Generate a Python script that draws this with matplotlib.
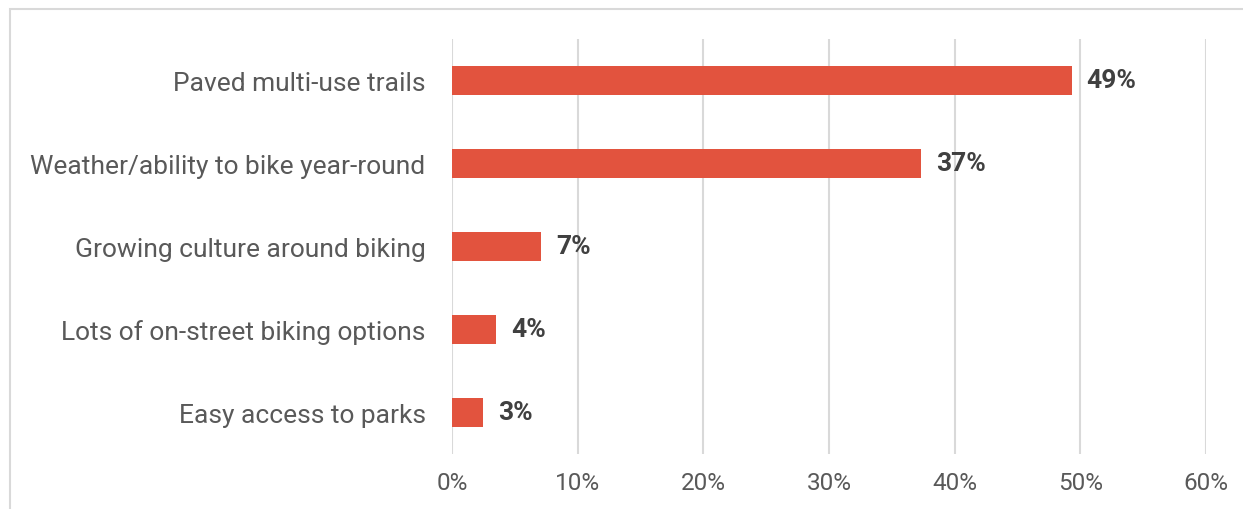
import matplotlib.pyplot as plt
from matplotlib.patches import Rectangle

categories = [
    "Paved multi-use trails",
    "Weather/ability to bike year-round",
    "Growing culture around biking",
    "Lots of on-street biking options",
    "Easy access to parks",
]
values = [49.3, 37.3, 7.1, 3.5, 2.5]
value_labels = ["49%", "37%", "7%", "4%", "3%"]
xticks = [0, 10, 20, 30, 40, 50, 60]

plt.rcParams['font.family'] = ['Roboto', 'DejaVu Sans']

fig = plt.figure(figsize=(12.43, 5.10), dpi=100)
ax = fig.add_axes([452 / 1243, 1 - 455 / 510, (1206 - 452) / 1243, (455 - 40) / 510])

ypos = list(range(len(categories)))
bars = ax.barh(ypos, values, height=0.35, color='#E2533E', zorder=3)

for y, v, lab in zip(ypos, values, value_labels):
    ax.text(v + 1.2, y, lab, va='center', ha='left', fontsize=19,
            fontweight='bold', color='#404040')

ax.set_xlim(0, 60)
ax.set_ylim(len(categories) - 0.5, -0.5)
ax.set_xticks(xticks)
ax.set_xticklabels([f"{t}%" for t in xticks])
ax.set_yticks(ypos)
ax.set_yticklabels(categories)
ax.tick_params(axis='both', length=0, labelcolor='#595959')
ax.tick_params(axis='x', pad=12, labelsize=17.5)
ax.tick_params(axis='y', pad=19, labelsize=19)
ax.grid(axis='x', color='#D9D9D9', linewidth=1.5, zorder=0)
for s in ax.spines.values():
    s.set_visible(False)

# chart border (top and left visible)
fig.add_artist(Rectangle((10 / 1243, -0.05), 1.2, 1 - 10 / 510 + 0.05,
                         transform=fig.transFigure, fill=False,
                         edgecolor='#D9D9D9', linewidth=1.5))

fig.savefig('out.png', dpi=100)
